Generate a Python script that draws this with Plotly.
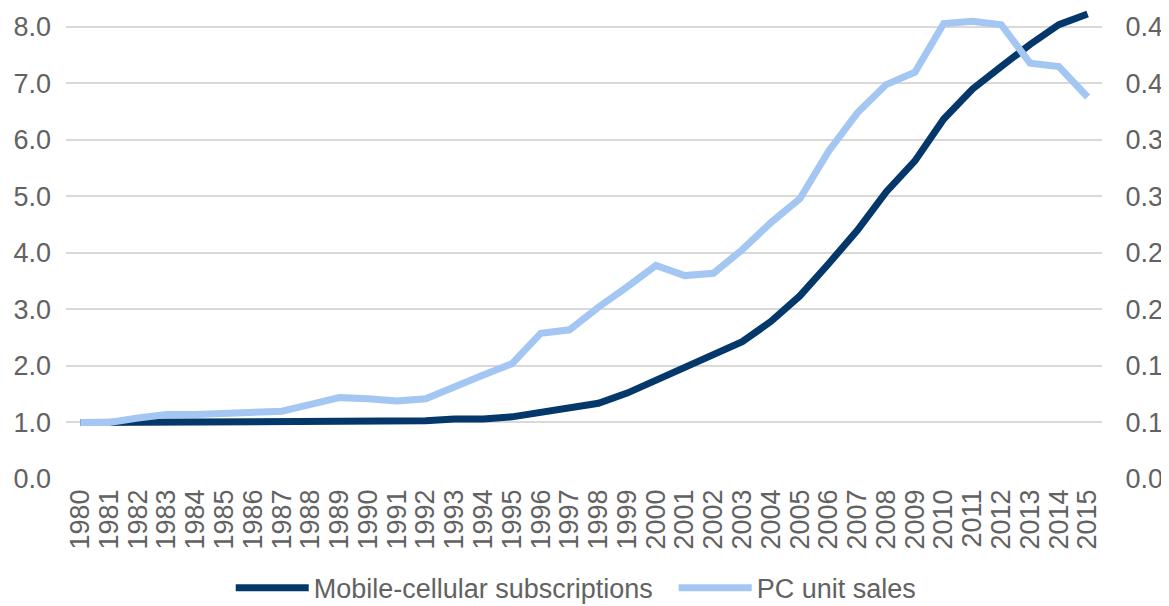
import plotly.graph_objects as go

# datos
anios = [str(a) for a in range(1980, 2016)]

moviles = [1.00, 1.00, 1.01, 1.02, 1.02, 1.03, 1.03, 1.03, 1.03, 1.03,
           1.03, 1.03, 1.03, 1.06, 1.06, 1.10, 1.17, 1.24, 1.34, 1.52,
           1.74, 1.96, 2.21, 2.43, 2.79, 3.24, 3.81, 4.40, 5.08, 5.63,
           6.37, 6.90, 7.30, 7.69, 8.04, 8.23]

# eje derecho (ventas de PC)
pc = [0.050, 0.050, 0.054, 0.057, 0.057, 0.058, 0.060, 0.060, 0.066, 0.072,
      0.071, 0.069, 0.071, 0.082, 0.092, 0.102, 0.129, 0.132, 0.152, 0.170,
      0.189, 0.180, 0.182, 0.203, 0.227, 0.248, 0.290, 0.324, 0.349, 0.360,
      0.403, 0.405, 0.402, 0.368, 0.365, 0.338]

izq_vals = [0, 1, 2, 3, 4, 5, 6, 7, 8]
izq_text = ["0.0", "1.0", "2.0", "3.0", "4.0", "5.0", "6.0", "7.0", "8.0"]
der_vals = [0, 0.05, 0.1, 0.15, 0.2, 0.25, 0.3, 0.35, 0.4]
der_text = ["0.0", "0.1", "0.1", "0.2", "0.2", "0.3", "0.3", "0.4", "0.4"]

fuente = dict(family="Liberation Sans, Arial, sans-serif", size=27, color="#626262")

fig = go.Figure()
fig.add_scatter(x=anios, y=moviles, mode="lines", name="Mobile-cellular subscriptions",
                line=dict(color="#04386a", width=7))
fig.add_scatter(x=anios, y=pc, mode="lines", name="PC unit sales", yaxis="y2",
                line=dict(color="#a3c6f2", width=7))

# la pagina deja 8px de margen arriba/izquierda; la figura sobra por abajo
fig.update_layout(
    width=1161, height=620,
    margin=dict(l=58, r=67, t=2, b=149),
    paper_bgcolor="white", plot_bgcolor="white",
    font=fuente,
    showlegend=True,
    legend=dict(orientation="h", x=0.159, xanchor="left", y=-0.233, yanchor="middle",
                font=fuente, itemwidth=73, entrywidth=355),
    xaxis=dict(type="category", tickangle=-90, tickmode="array", tickvals=anios, ticktext=anios,
               range=[-0.5, 35.5], showgrid=False, showline=False, zeroline=False,
               ticklabelstandoff=4, automargin=False),
    yaxis=dict(range=[0, 8.3], tickmode="array", tickvals=izq_vals, ticktext=izq_text,
               showgrid=True, gridcolor="#d9d9d9", gridwidth=2, zeroline=False,
               showline=False, ticklabelstandoff=14, automargin=False),
    yaxis2=dict(range=[0, 0.415], overlaying="y", side="right", tickmode="array",
                tickvals=der_vals, ticktext=der_text, showgrid=False, zeroline=False,
                showline=False, ticks="outside", ticklen=17, tickcolor="rgba(0,0,0,0)",
                automargin=False),
)

fig.write_html("out.html")
